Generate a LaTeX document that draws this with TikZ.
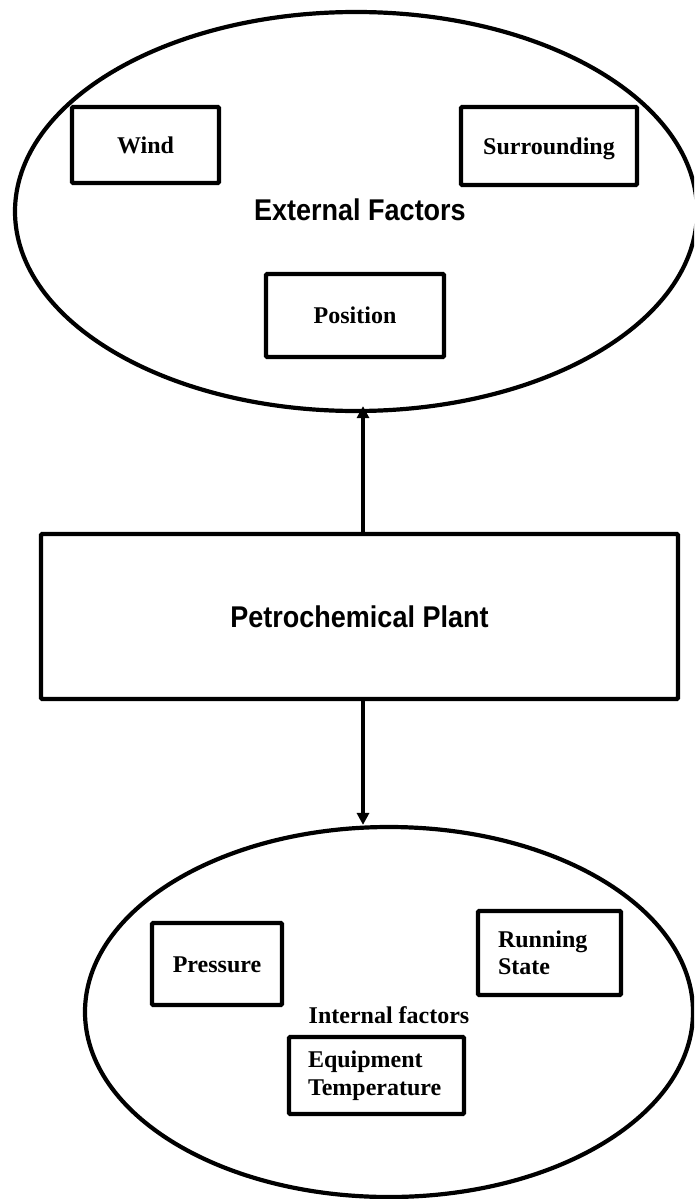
\documentclass[tikz,border=0pt]{standalone}
\usepackage{fontspec}
\setmainfont{Liberation Serif}
\newfontfamily\hsans[FakeStretch=0.9]{Liberation Sans}
\usetikzlibrary{shapes.geometric,arrows.meta}
\tikzset{
  lw/.style={line width=4.2pt},
  oval/.style={draw, lw, ellipse, inner sep=0pt},
  factorbox/.style={draw, lw, rounded corners=1pt, inner sep=0pt, align=center,
     font=\bfseries\fontsize{24}{27.5}\selectfont},
  onebox/.style={factorbox, text height=16pt, text depth=0pt},
  leftbox/.style={factorbox, align=left, inner xsep=20pt},
  bigtext/.style={font=\hsans\bfseries\fontsize{30}{36}\selectfont, inner sep=0pt},
  smalltext/.style={font=\bfseries\fontsize{24}{27.5}\selectfont, inner sep=0pt},
  arr/.style={lw, -{Triangle[length=12pt,width=12pt]}}
}
\begin{document}
\begin{tikzpicture}[x=1pt,y=-1pt]
\useasboundingbox (0,0) rectangle (694,1199);
\clip (0,0) rectangle (694,1199);
% ellipses
\node[oval, minimum width=682pt, minimum height=399pt] (ext) at (356,211.5) {};
\node[oval, minimum width=608pt, minimum height=370pt] (int) at (389,1012) {};
% external factors
\node[onebox, minimum width=147pt, minimum height=76pt] (wind) at (145.5,145) {Wind};
\node[onebox, minimum width=176pt, minimum height=78pt] (surr) at (549,146) {Surrounding};
\node[bigtext] (extlbl) at (360,210) {External Factors};
\node[onebox, minimum width=178pt, minimum height=83pt] (pos) at (355,315.5) {Position};
% plant
\node[draw, lw, rounded corners=1pt, minimum width=637pt, minimum height=165pt, inner sep=0pt] (petro) at (359.5,616.5) {};
\node[bigtext] (petrolbl) at (petro.center) {Petrochemical Plant};
% internal factors
\node[onebox, minimum width=130pt, minimum height=82pt] (press) at (217,964) {Pressure};
\node[leftbox, text width=103pt, minimum height=84pt] (run) at (549.5,953) {Running\\State};
\node[smalltext, anchor=base] (intlbl) at (389,1023) {Internal factors};
\node[leftbox, text width=137pt, minimum height=77pt, inner xsep=19pt] (equip) at (376.5,1075.5) {Equipment\\Temperature};
% arrows
\draw[arr, shorten >=-7pt] ([xshift=3.5pt]petro.north) -- ([xshift=3.5pt]petro.north |- ext.south);
\draw[arr] ([xshift=3.5pt]petro.south) -- ([xshift=3.5pt]petro.south |- int.north);
\end{tikzpicture}
\end{document}
